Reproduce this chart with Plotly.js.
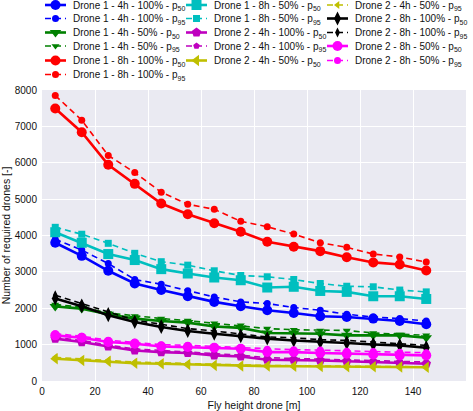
<!DOCTYPE html>
<html>
<head>
<meta charset="utf-8">
<script src="https://cdn.plot.ly/plotly-3.0.1.min.js"></script>
<style>
html,body{margin:0;padding:0;background:#fff;}
#chart{width:473px;height:411px;}
</style>
</head>
<body>
<div id="chart"></div>
<script>
// Fly heights [m]
const heights = [5, 15, 25, 35, 45, 55, 65, 75, 85, 95, 105, 115, 125, 135, 145];

// Number of required drones
const d1_4h_100_p50 = [3800, 3440, 3030, 2680, 2500, 2330, 2175, 2055, 1945, 1870, 1780, 1760, 1715, 1650, 1560];
const d1_4h_100_p95 = [3900, 3600, 3230, 2790, 2660, 2480, 2310, 2175, 2130, 2020, 1945, 1835, 1760, 1715, 1650];
const d1_4h_50_p50  = [2050, 1990, 1835, 1715, 1650, 1605, 1500, 1460, 1320, 1320, 1300, 1255, 1255, 1255, 1190];
const d1_4h_50_p95  = [2100, 2030, 1870, 1790, 1720, 1660, 1590, 1530, 1440, 1410, 1390, 1390, 1320, 1280, 1255];
const d1_8h_100_p50 = [7490, 6840, 5945, 5420, 4880, 4585, 4335, 4105, 3830, 3690, 3570, 3400, 3260, 3205, 3040];
const d1_8h_100_p95 = [7850, 7170, 6200, 5730, 5190, 4860, 4720, 4390, 4240, 4040, 3800, 3675, 3490, 3410, 3270];
const d1_8h_50_p50  = [4090, 3800, 3490, 3325, 3075, 2955, 2845, 2770, 2570, 2590, 2475, 2450, 2330, 2330, 2255];
const d1_8h_50_p95  = [4225, 4035, 3785, 3510, 3280, 3185, 3030, 2900, 2865, 2790, 2680, 2605, 2590, 2500, 2450];
const d2_4h_100_p50 = [1165, 1070, 950, 840, 795, 770, 705, 675, 585, 585, 565, 545, 520, 490, 475];
const d2_4h_100_p95 = [1200, 1110, 990, 880, 840, 800, 740, 710, 640, 620, 600, 580, 560, 540, 520];
const d2_4h_50_p50  = [610, 565, 540, 490, 475, 455, 430, 415, 410, 405, 400, 395, 390, 385, 380];
const d2_4h_50_p95  = [650, 600, 570, 520, 500, 480, 450, 430, 425, 420, 410, 405, 400, 395, 390];
const d2_8h_100_p50 = [2265, 2055, 1805, 1620, 1485, 1375, 1300, 1230, 1165, 1115, 1070, 1045, 1005, 980, 915];
const d2_8h_100_p95 = [2360, 2130, 1900, 1670, 1560, 1440, 1375, 1300, 1210, 1190, 1135, 1115, 1070, 1025, 980];
const d2_8h_50_p50  = [1255, 1190, 1070, 1025, 950, 935, 915, 885, 795, 795, 770, 750, 730, 705, 705];
const d2_8h_50_p95  = [1300, 1230, 1120, 1070, 1000, 980, 950, 920, 870, 860, 850, 820, 810, 790, 780];

const seriesNames = [
  'Drone 1 - 4h - 100% - p<sub>50</sub>', 'Drone 1 - 4h - 100% - p<sub>95</sub>',
  'Drone 1 - 4h - 50% - p<sub>50</sub>',  'Drone 1 - 4h - 50% - p<sub>95</sub>',
  'Drone 1 - 8h - 100% - p<sub>50</sub>', 'Drone 1 - 8h - 100% - p<sub>95</sub>',
  'Drone 1 - 8h - 50% - p<sub>50</sub>',  'Drone 1 - 8h - 50% - p<sub>95</sub>',
  'Drone 2 - 4h - 100% - p<sub>50</sub>', 'Drone 2 - 4h - 100% - p<sub>95</sub>',
  'Drone 2 - 4h - 50% - p<sub>50</sub>',  'Drone 2 - 4h - 50% - p<sub>95</sub>',
  'Drone 2 - 8h - 100% - p<sub>50</sub>', 'Drone 2 - 8h - 100% - p<sub>95</sub>',
  'Drone 2 - 8h - 50% - p<sub>50</sub>',  'Drone 2 - 8h - 50% - p<sub>95</sub>'
];
const seriesValues = [
  d1_4h_100_p50, d1_4h_100_p95, d1_4h_50_p50, d1_4h_50_p95,
  d1_8h_100_p50, d1_8h_100_p95, d1_8h_50_p50, d1_8h_50_p95,
  d2_4h_100_p50, d2_4h_100_p95, d2_4h_50_p50, d2_4h_50_p95,
  d2_8h_100_p50, d2_8h_100_p95, d2_8h_50_p50, d2_8h_50_p95
];
const colors  = ['#0000ff', '#008000', '#ff0000', '#00bfbf', '#bf00bf', '#bfbf00', '#000000', '#ff00ff'];
const symbols = ['circle', 'triangle-down', 'circle', 'square', 'pentagon', 'triangle-left', 'diamond-tall', 'circle'];
const legendOf = ['legend','legend','legend','legend','legend','legend',
                  'legend2','legend2','legend2','legend2','legend2',
                  'legend3','legend3','legend3','legend3','legend3'];

const traces = seriesValues.map((vals, i) => {
  const g = Math.floor(i / 2);
  const p95 = i % 2 === 1;
  return {
    type: 'scatter',
    mode: 'lines+markers',
    x: heights,
    y: vals,
    name: seriesNames[i],
    legend: legendOf[i],
    line: {color: colors[g], width: p95 ? 1.6 : 2.6, dash: p95 ? '6px,4px' : 'solid'},
    marker: {color: colors[g], symbol: symbols[g], size: p95 ? 7 : 10, line: {width: 0}}
  };
});

const legendBase = {
  bgcolor: 'rgba(0,0,0,0)', borderwidth: 0,
  font: {family: 'Liberation Sans, Arial, sans-serif', size: 10, color: '#111'},
  yanchor: 'top', xanchor: 'left', y: 1.31, orientation: 'v', tracegroupgap: 0
};

const layout = {
  width: 473, height: 411,
  margin: {l: 42, r: 7, t: 90, b: 30, autoexpand: false},
  paper_bgcolor: '#ffffff',
  plot_bgcolor: '#eaeaf2',
  font: {family: 'Liberation Sans, Arial, sans-serif', size: 10, color: '#111'},
  showlegend: true,
  legend:  Object.assign({}, legendBase, {x: 0.0}),
  legend2: Object.assign({}, legendBase, {x: 0.33}),
  legend3: Object.assign({}, legendBase, {x: 0.645}),
  xaxis: {
    range: [0, 160], dtick: 20, tick0: 0,
    showgrid: true, gridcolor: '#ffffff', gridwidth: 1.2,
    zeroline: false, showline: false, ticks: '',
    ticklabelstandoff: 3,
    tickfont: {size: 10, color: '#111'},
    title: {text: 'Fly height drone [m]', font: {size: 10.5, color: '#111'}, standoff: 6}
  },
  yaxis: {
    range: [0, 8000], dtick: 1000, tick0: 0,
    showgrid: true, gridcolor: '#ffffff', gridwidth: 1.2,
    zeroline: false, showline: false, ticks: '',
    ticklabelstandoff: 4,
    tickfont: {size: 10, color: '#111'},
    title: {text: 'Number of required drones [-]', font: {size: 10.5, color: '#111'}, standoff: 6}
  }
};

function parseTranslate(el) {
  const m = (el.getAttribute('transform') || '').match(/translate\(\s*([-\d.e]+)[ ,]+([-\d.e]+)\s*\)/);
  return m ? [parseFloat(m[1]), parseFloat(m[2])] : [0, 0];
}

Plotly.newPlot('chart', traces, layout, {displayModeBar: false}).then(gd => {
  // compact legend layout like the reference: ~14 px row pitch, short sample lines
  const rowCenters = [5, 18.5, 32.5, 46, 60.5, 74.5];
  const textStart = {legend: 73, legend2: 214, legend3: 355};
  Object.keys(textStart).forEach(id => {
    const lg = gd.querySelector('.infolayer > g.' + id);
    if (!lg) return;
    lg.querySelectorAll('[clip-path]').forEach(el => el.removeAttribute('clip-path'));
    const [lx, ly] = parseTranslate(lg);
    lg.querySelectorAll('g.traces').forEach((tr, i) => {
      const txt = tr.querySelector('text.legendtext');
      let bx = 40;
      if (txt) { try { bx = txt.getBBox().x; } catch (e) {} }
      const tx = textStart[id] - lx - bx;
      tr.setAttribute('transform', 'translate(' + tx + ',' + (rowCenters[i] - ly) + ')');
      tr.querySelectorAll('.legendlines path').forEach(p => {
        p.setAttribute('d', 'M' + (bx - 28) + ',0h21');
      });
      tr.querySelectorAll('.legendpoints path.scatterpts').forEach(p => {
        p.setAttribute('transform', 'translate(' + (bx - 17.5) + ',0)');
      });
    });
  });
});
</script>
</body>
</html>
